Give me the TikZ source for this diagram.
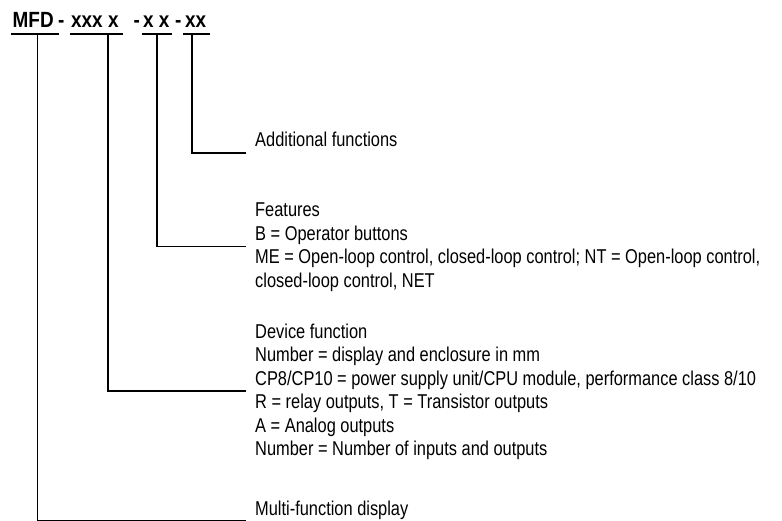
\documentclass[tikz,border=0pt]{standalone}
\usepackage{fontspec}
\setmainfont{Liberation Sans}[FakeStretch=0.82]
\newfontfamily\hdrfont{Liberation Sans}[FakeStretch=0.86]
\begin{document}
\begin{tikzpicture}[x=1pt,y=-1pt,
  conn/.style={line width=1.2pt},
  hdr/.style={anchor=base west,inner sep=0pt,font=\hdrfont\bfseries\fontsize{22}{24}\selectfont},
  lbl/.style={anchor=base west,inner sep=0pt,font=\fontsize{20}{23.5}\selectfont}]
\useasboundingbox (0,0) rectangle (782,521);
% header
\node[hdr] (h1) at (12.5,28) {MFD};
\node[hdr] (d1) at (58,28) {-};
\node[hdr] (h2) at (71,28) {xxx x};
\node[hdr] (d2) at (133.5,28) {-};
\node[hdr] (h3) at (143,28) {x x};
\node[hdr] (d3) at (175,28) {-};
\node[hdr] (h4) at (185,28) {xx};
% underlines
\draw[conn] (11,34) -- (59,34);
\draw[conn] (70,34) -- (123,34);
\draw[conn] (142,34) -- (172,34);
\draw[conn] (183,34) -- (210,34);
\coordinate (t1) at (37.5,34);
\coordinate (t2) at (108,34);
\coordinate (t3) at (157,34);
\coordinate (t4) at (192,34);
% labels
\node[lbl] (add) at (255,147) {Additional functions};
\node[lbl] (feat) at (255,217) {Features};
\node[lbl] (featb) at (255,240.5) {B = Operator buttons};
\node[lbl] (featme) at (255,264) {ME = Open-loop control, closed-loop control; NT = Open-loop control,};
\node[lbl] (featcl) at (255,287.5) {closed-loop control, NET};
\node[lbl] (dev) at (255,338) {Device function};
\node[lbl] (devn) at (255,361.5) {Number = display and enclosure in mm};
\node[lbl] (devcp) at (255,385) {CP8/CP10 = power supply unit/CPU module, performance class 8/10};
\node[lbl] (devr) at (255,408.5) {R = relay outputs, T = Transistor outputs};
\node[lbl] (deva) at (255,432) {A = Analog outputs};
\node[lbl] (devnn) at (255,455.5) {Number = Number of inputs and outputs};
\node[lbl] (multi) at (255,515) {Multi-function display};
% connectors
\draw[conn] (t4) |- ([xshift=-9pt,yshift=-6pt]add.base west);
\draw[conn] (t3) |- ([xshift=-9pt,yshift=-6pt]featb.base west);
\draw[conn] (t2) |- ([xshift=-9pt,yshift=-6pt]devcp.base west);
\draw[conn] (t1) |- ([xshift=-9pt,yshift=-6pt]multi.base west);
\end{tikzpicture}
\end{document}
